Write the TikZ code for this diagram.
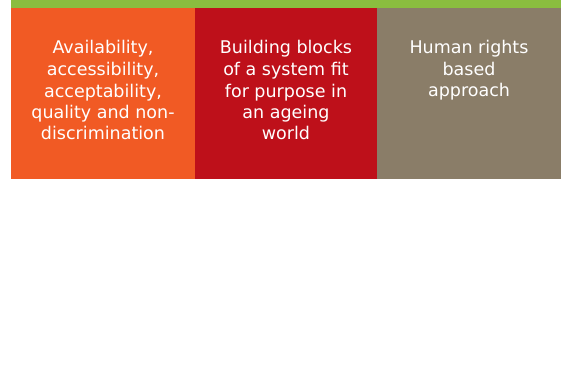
\documentclass[tikz,border=0pt]{standalone}
\usepackage{fontspec}
\setmainfont{DejaVu Sans}

\definecolor{barGreen}{HTML}{8ABD3F}
\definecolor{boxOrange}{HTML}{F15A24}
\definecolor{boxRed}{HTML}{BE101A}
\definecolor{boxGrey}{HTML}{8A7D68}

\tikzset{
  blocktext/.style={anchor=north,text=white,align=center,inner sep=0pt,
    font=\fontsize{17.5}{21.5}\selectfont}
}

\begin{document}
\begin{tikzpicture}[x=1pt,y=-1pt]
\useasboundingbox (0,0) rectangle (565,370);
\fill[barGreen] (11,0) rectangle (561,7.5);

\fill[boxOrange] (11,7.5) rectangle (195,179);
\fill[boxRed] (195,7.5) rectangle (377,179);
\fill[boxGrey] (377,7.5) rectangle (561,179);

\node[blocktext] (avail) at (103,40.5) {Availability,\\accessibility,\\acceptability,\\quality and non-\\discrimination};
\node[blocktext] (blocks) at (286,40.5) {Building blocks\\of a system fit\\for purpose in\\an ageing\\world};
\node[blocktext] (rights) at (469,40.5) {Human rights\\based\\approach};
\end{tikzpicture}
\end{document}
